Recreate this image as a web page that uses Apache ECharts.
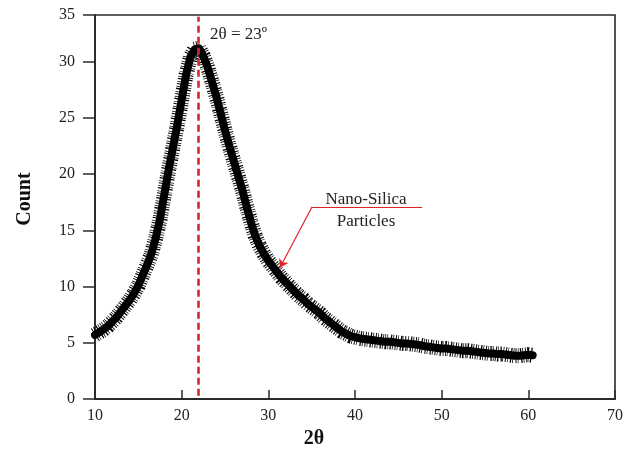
<!DOCTYPE html>
<html>
<head>
<meta charset="utf-8">
<script src="https://cdn.jsdelivr.net/npm/echarts@6/dist/echarts.min.js"></script>
<style>html,body{margin:0;padding:0;background:#fff;}#c{width:630px;height:454px;}</style>
</head>
<body>
<div id="c"></div>
<script>
// Data (2θ in degrees, intensity count)
const twoTheta = [10,10.5,11,11.5,12,12.5,13,13.5,14,14.5,15,15.5,16,16.5,17,17.5,18,18.5,19,19.5,
  20,20.5,21,21.5,22,22.5,23,23.5,24,24.5,25,25.5,26,26.5,27,27.5,28,28.5,29,29.5,
  30,30.5,31,31.5,32,32.5,33,33.5,34,34.5,35,35.5,36,36.5,37,37.5,38,38.5,39,39.5,
  40,40.5,41,41.5,42,42.5,43,43.5,44,44.5,45,45.5,46,46.5,47,47.5,48,48.5,49,49.5,
  50,50.5,51,51.5,52,52.5,53,53.5,54,54.5,55,55.5,56,56.5,57,57.5,58,58.5,59,59.5,60,60.5];
const counts = [5.7,5.95,6.2,6.5,6.9,7.3,7.8,8.3,8.8,9.4,10.1,11.0,11.9,12.9,14.3,16.0,18.2,20.4,22.4,24.4,
  26.6,28.8,30.4,31.1,31.2,30.5,29.5,28.2,26.9,25.4,23.9,22.5,21.2,19.9,18.6,17.1,15.7,14.5,13.6,12.9,
  12.3,11.8,11.3,10.8,10.4,10.0,9.6,9.2,8.9,8.5,8.2,7.9,7.6,7.2,6.9,6.6,6.3,6.0,5.8,5.6,
  5.5,5.4,5.35,5.3,5.25,5.2,5.15,5.1,5.1,5.05,5.0,4.95,4.95,4.9,4.85,4.8,4.7,4.65,4.6,4.55,
  4.5,4.5,4.45,4.4,4.35,4.3,4.3,4.25,4.2,4.15,4.1,4.05,4.05,4.0,4.0,3.95,3.9,3.85,3.85,3.9,3.95,3.9];
const xTicks = [10,20,30,40,50,60,70];
const yTicks = [0,5,10,15,20,25,30,35];
const peakAngle = 21.95;
const peakLabel = '2θ = 23º';
const seriesLabel = ['Nano-Silica', 'Particles'];

const chart = echarts.init(document.getElementById('c'), null, {renderer: 'canvas', width: 630, height: 454});
const FONT = '"Liberation Serif", "Times New Roman", serif';
const yTop = 34.15; // value at the upper frame of the (vertically compressed) original plot
const pts = twoTheta.map((x, i) => [x, counts[i]]);

chart.setOption({
  backgroundColor: '#ffffff',
  animation: false,
  grid: {left: 95, top: 15, width: 520, height: 387, show: true, borderColor: '#2a2a2a', borderWidth: 1.6, containLabel: false},
  xAxis: {
    type: 'value', min: xTicks[0], max: xTicks[xTicks.length - 1], interval: 10,
    name: '2θ', nameLocation: 'middle', nameGap: 29,
    nameTextStyle: {fontFamily: FONT, fontWeight: 'bold', fontSize: 20, color: '#111', padding: [0, 82, 0, 0]},
    axisLine: {lineStyle: {color: '#2a2a2a', width: 1.8}},
    axisTick: {inside: true, length: 9, lineStyle: {color: '#2a2a2a', width: 1.5}},
    axisLabel: {fontFamily: FONT, fontSize: 16, color: '#222', margin: 9},
    splitLine: {show: false}
  },
  yAxis: {
    type: 'value', min: yTicks[0], max: yTop, interval: 5,
    name: 'Count', nameLocation: 'middle', nameGap: 60,
    nameTextStyle: {fontFamily: FONT, fontWeight: 'bold', fontSize: 20, color: '#111', padding: [0, 0, 0, 16]},
    axisLine: {lineStyle: {color: '#2a2a2a', width: 1.8}},
    axisTick: {length: 12, lineStyle: {color: '#2a2a2a', width: 1.5}},
    axisLabel: {fontFamily: FONT, fontSize: 16, color: '#222', margin: 20,
      formatter: v => (v > yTicks[yTicks.length - 2] ? String(yTicks[yTicks.length - 1]) : String(v))},
    splitLine: {show: false}
  },
  series: [
    {
      type: 'line', name: 'Nano-Silica', data: pts,
      showSymbol: false, smooth: false,
      lineStyle: {color: '#000', width: 8, join: 'round', cap: 'round'},
      z: 3
    },
    {
      type: 'line', name: 'Nano-Silica noise', data: pts,
      showSymbol: false, smooth: false, silent: true,
      lineStyle: {color: '#000', width: 15, type: [1, 1.3, 0.7, 2.1, 1.3, 1.1, 0.8, 1.8], cap: 'butt', join: 'round'},
      z: 3
    },
    {
      type: 'line', data: [], silent: true,
      markLine: {
        silent: true, symbol: ['none', 'none'], animation: false,
        label: {show: false},
        lineStyle: {color: '#d7262e', width: 2.6, type: [7, 4]},
        data: [[{coord: [peakAngle, 0.3]}, {coord: [peakAngle, 34.0]}]]
      },
      z: 4
    },
    {
      type: 'line', data: [], silent: true,
      markLine: {
        silent: true, animation: false, label: {show: false},
        lineStyle: {color: '#e0222a', width: 1.2, type: 'solid'},
        data: [
          [{coord: [47.75, 17.1], symbol: 'none'}, {coord: [35.05, 17.1], symbol: 'none'}],
          [{coord: [35.05, 17.1], symbol: 'none'}, {coord: [31.35, 11.7], symbol: 'arrow', symbolSize: 8}]
        ]
      },
      z: 5
    }
  ],
  graphic: [
    {type: 'text', x: 210, y: 35, style: {text: peakLabel, font: '17px ' + FONT, fill: '#222', textVerticalAlign: 'middle'}},
    {type: 'text', x: 366, y: 200, style: {text: seriesLabel[0], font: '17px ' + FONT, fill: '#222', textAlign: 'center', textVerticalAlign: 'middle'}},
    {type: 'text', x: 366, y: 222, style: {text: seriesLabel[1], font: '17px ' + FONT, fill: '#222', textAlign: 'center', textVerticalAlign: 'middle'}}
  ]
});
</script>
</body>
</html>
